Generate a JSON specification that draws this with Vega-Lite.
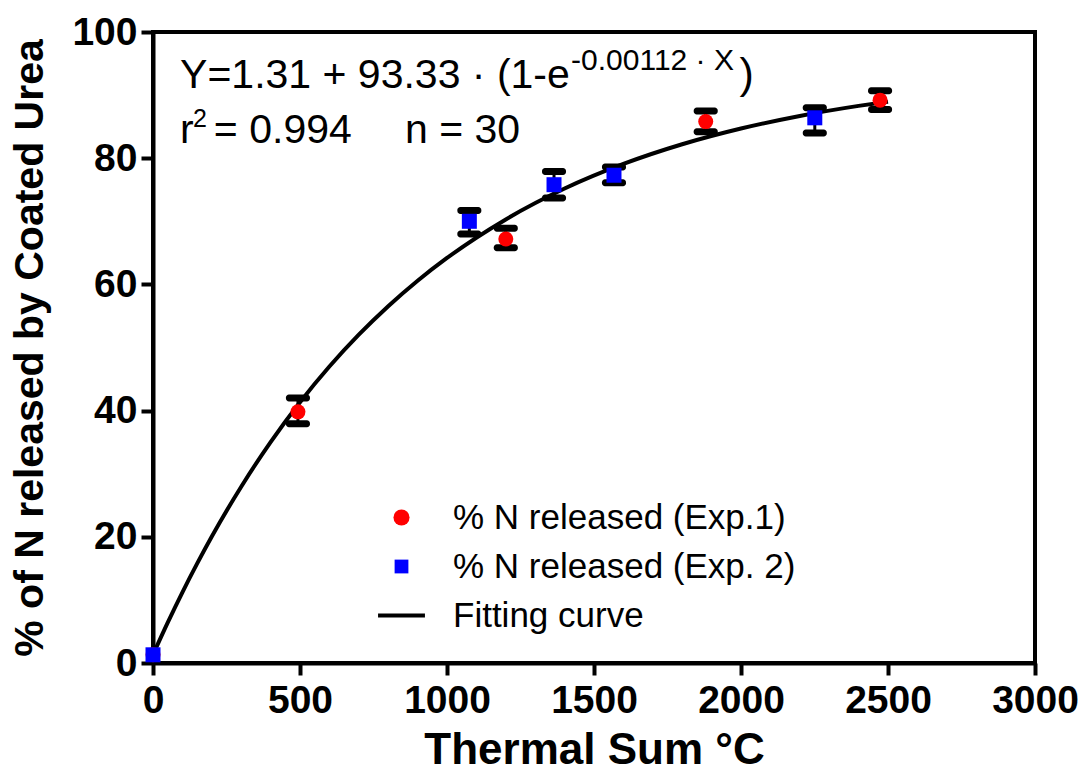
{
  "$schema": "https://vega.github.io/schema/vega-lite/v6.json",
  "width": 882,
  "height": 631,
  "autosize": {"type": "none"},
  "padding": {"left": 153, "top": 32, "right": 50, "bottom": 113},
  "background": "white",
  "config": {
    "view": {"stroke": "black", "strokeWidth": 4},
    "font": "Liberation Sans",
    "axis": {
      "grid": false,
      "domainColor": "black",
      "domainWidth": 4,
      "tickColor": "black",
      "tickWidth": 4,
      "tickSize": 12,
      "labelFlush": false,
      "labelFont": "Liberation Sans",
      "labelFontWeight": "bold",
      "labelFontSize": 39,
      "labelColor": "black",
      "titleFont": "Liberation Sans",
      "titleFontWeight": "bold",
      "titleColor": "black"
    }
  },
  "datasets": {
    "pts": [
      {"series": "% N released (Exp.1)", "x": 0, "y": 1.3, "lo": null, "hi": null},
      {"series": "% N released (Exp.1)", "x": 493, "y": 39.8, "lo": 37.9, "hi": 42.0},
      {"series": "% N released (Exp.1)", "x": 1200, "y": 67.2, "lo": 65.8, "hi": 68.9},
      {"series": "% N released (Exp.1)", "x": 1880, "y": 85.8, "lo": 84.2, "hi": 87.5},
      {"series": "% N released (Exp.1)", "x": 2473, "y": 89.2, "lo": 87.7, "hi": 90.7},
      {"series": "% N released (Exp. 2)", "x": 0, "y": 1.3, "lo": null, "hi": null},
      {"series": "% N released (Exp. 2)", "x": 1076, "y": 70.0, "lo": 68.0, "hi": 71.7},
      {"series": "% N released (Exp. 2)", "x": 1364, "y": 75.8, "lo": 73.7, "hi": 77.9},
      {"series": "% N released (Exp. 2)", "x": 1568, "y": 77.3, "lo": 76.1, "hi": 78.6},
      {"series": "% N released (Exp. 2)", "x": 2251, "y": 86.4, "lo": 84.0, "hi": 88.0}
    ],
    "curve": [
      {"x": 0, "y": 1.31},
      {"x": 50, "y": 6.39},
      {"x": 100, "y": 11.20},
      {"x": 150, "y": 15.74},
      {"x": 200, "y": 20.04},
      {"x": 300, "y": 27.94},
      {"x": 400, "y": 35.01},
      {"x": 500, "y": 41.33},
      {"x": 600, "y": 46.98},
      {"x": 700, "y": 52.03},
      {"x": 800, "y": 56.54},
      {"x": 900, "y": 60.58},
      {"x": 1000, "y": 64.19},
      {"x": 1200, "y": 70.30},
      {"x": 1400, "y": 75.19},
      {"x": 1600, "y": 79.09},
      {"x": 1800, "y": 82.21},
      {"x": 2000, "y": 84.70},
      {"x": 2200, "y": 86.70},
      {"x": 2400, "y": 88.29},
      {"x": 2500, "y": 88.96}
    ]
  },
  "layer": [
    {
      "data": {"name": "pts"},
      "mark": {"type": "rule", "color": "black", "strokeWidth": 3, "opacity": 1},
      "encoding": {
        "x": {"field": "x", "type": "quantitative", "scale": {"domain": [0, 3000], "nice": false},
              "axis": {"values": [0, 500, 1000, 1500, 2000, 2500, 3000], "format": "d", "title": "Thermal Sum °C", "titleFontSize": 44, "labelPadding": 6, "titlePadding": 8}},
        "y": {"field": "lo", "type": "quantitative", "scale": {"domain": [0, 100], "nice": false},
              "axis": {"values": [0, 20, 40, 60, 80, 100], "title": "% of N released by Coated Urea", "titleFontSize": 41, "labelPadding": 4, "titlePadding": 20}},
        "y2": {"field": "hi"}
      }
    },
    {
      "data": {"name": "pts"},
      "mark": {"type": "tick", "orient": "horizontal", "color": "black", "opacity": 1, "thickness": 7, "size": 24, "cornerRadius": 3},
      "encoding": {
        "x": {"field": "x", "type": "quantitative"},
        "y": {"field": "lo", "type": "quantitative"}
      }
    },
    {
      "data": {"name": "pts"},
      "mark": {"type": "tick", "orient": "horizontal", "color": "black", "opacity": 1, "thickness": 7, "size": 24, "cornerRadius": 3},
      "encoding": {
        "x": {"field": "x", "type": "quantitative"},
        "y": {"field": "hi", "type": "quantitative"}
      }
    },
    {
      "data": {"name": "curve"},
      "mark": {"type": "line", "color": "black", "strokeWidth": 4, "interpolate": "monotone"},
      "encoding": {
        "x": {"field": "x", "type": "quantitative"},
        "y": {"field": "y", "type": "quantitative"}
      }
    },
    {
      "data": {"name": "pts"},
      "mark": {"type": "point", "filled": true, "opacity": 1, "size": 225},
      "encoding": {
        "x": {"field": "x", "type": "quantitative"},
        "y": {"field": "y", "type": "quantitative"},
        "color": {"field": "series", "type": "nominal",
          "scale": {"domain": ["% N released (Exp.1)", "% N released (Exp. 2)", "Fitting curve"], "range": ["#ff0000", "#0000ff", "#000000"]},
          "legend": {
            "title": null, "orient": "none", "legendX": 231, "legendY": 468,
            "labelFont": "Liberation Sans", "labelFontSize": 35, "labelColor": "black", "labelLimit": 0,
            "labelOffset": 34, "rowPadding": 13,
            "symbolSize": 260, "symbolStrokeColor": "black", "symbolOpacity": 1,
            "encoding": {"symbols": {
              "fill": {"value": {"expr": "datum.value === 'Fitting curve' ? 'transparent' : scale('color', datum.value)"}},
              "stroke": {"value": {"expr": "datum.value === 'Fitting curve' ? 'black' : 'transparent'"}},
              "strokeWidth": {"value": {"expr": "datum.value === 'Fitting curve' ? 4 : 0"}},
              "size": {"value": {"expr": "datum.value === 'Fitting curve' ? 2200 : (datum.value === '% N released (Exp.1)' ? 260 : 190)"}}
            }}
          }},
        "shape": {"field": "series", "type": "nominal",
          "scale": {"domain": ["% N released (Exp.1)", "% N released (Exp. 2)", "Fitting curve"], "range": ["circle", "square", "stroke"]}}
      }
    },
    {
      "data": {"values": [{"t": "Y=1.31 + 93.33 · (1-e"}]},
      "mark": {"type": "text", "align": "left", "baseline": "alphabetic", "fontSize": 41, "font": "Liberation Sans", "color": "black"},
      "encoding": {"x": {"datum": 92}, "y": {"datum": 91.1}, "text": {"field": "t"}}
    },
    {
      "data": {"values": [{"t": "-0.00112 · X"}]},
      "mark": {"type": "text", "align": "left", "baseline": "alphabetic", "fontSize": 30, "font": "Liberation Sans", "color": "black"},
      "encoding": {"x": {"datum": 1422}, "y": {"datum": 93.9}, "text": {"field": "t"}}
    },
    {
      "data": {"values": [{"t": ")"}]},
      "mark": {"type": "text", "align": "left", "baseline": "alphabetic", "fontSize": 43, "font": "Liberation Sans", "color": "black"},
      "encoding": {"x": {"datum": 1995}, "y": {"datum": 91.1}, "text": {"field": "t"}}
    },
    {
      "data": {"values": [{"t": "r"}]},
      "mark": {"type": "text", "align": "left", "baseline": "alphabetic", "fontSize": 41, "font": "Liberation Sans", "color": "black"},
      "encoding": {"x": {"datum": 92}, "y": {"datum": 82.4}, "text": {"field": "t"}}
    },
    {
      "data": {"values": [{"t": "2"}]},
      "mark": {"type": "text", "align": "left", "baseline": "alphabetic", "fontSize": 25, "font": "Liberation Sans", "color": "black"},
      "encoding": {"x": {"datum": 136}, "y": {"datum": 85.0}, "text": {"field": "t"}}
    },
    {
      "data": {"values": [{"t": "= 0.994"}]},
      "mark": {"type": "text", "align": "left", "baseline": "alphabetic", "fontSize": 41, "font": "Liberation Sans", "color": "black"},
      "encoding": {"x": {"datum": 207}, "y": {"datum": 82.4}, "text": {"field": "t"}}
    },
    {
      "data": {"values": [{"t": "n = 30"}]},
      "mark": {"type": "text", "align": "left", "baseline": "alphabetic", "fontSize": 41, "font": "Liberation Sans", "color": "black"},
      "encoding": {"x": {"datum": 857}, "y": {"datum": 82.4}, "text": {"field": "t"}}
    }
  ]
}
